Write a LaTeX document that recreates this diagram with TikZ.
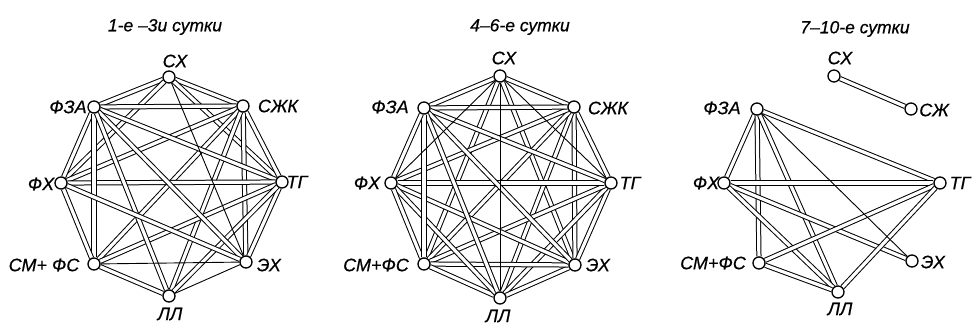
\documentclass[tikz,border=0pt]{standalone}
\usepackage{fontspec}
\setmainfont{Liberation Sans}
\newfontfamily\lbl{Liberation Sans}[FakeBold=0.6]
\usetikzlibrary{backgrounds}
\begin{document}
\begin{tikzpicture}[x=1pt,y=-1pt,
  vtx/.style={circle, draw, line width=1.3pt, fill=white, minimum size=12pt, inner sep=0pt},
  dbl/.style={draw, line width=1.0pt, double=white, double distance=3.2pt},
  thn/.style={draw, line width=0.9pt},
  lab/.style={font=\lbl\itshape\fontsize{18}{18}\selectfont, inner sep=0pt},
  ttl/.style={font=\lbl\itshape\fontsize{17.5}{18}\selectfont, inner sep=0pt}]
\useasboundingbox (0,0) rectangle (975,327);
% ---------- graph 1 ----------
\node[vtx] (pA1) at (169,77) {};
\node[vtx] (pB1) at (243,106) {};
\node[vtx] (pC1) at (282,182) {};
\node[vtx] (pD1) at (246,262) {};
\node[vtx] (pE1) at (169,296) {};
\node[vtx] (pF1) at (94,264) {};
\node[vtx] (pG1) at (61,183) {};
\node[vtx] (pH1) at (94,107) {};
% ---------- graph 2 ----------
\node[vtx] (pA2) at (500,76) {};
\node[vtx] (pB2) at (574,107) {};
\node[vtx] (pC2) at (611,183) {};
\node[vtx] (pD2) at (575,265) {};
\node[vtx] (pE2) at (500,298) {};
\node[vtx] (pF2) at (424,264) {};
\node[vtx] (pG2) at (391,183) {};
\node[vtx] (pH2) at (424,108) {};
% ---------- graph 3 ----------
\node[vtx] (pA3) at (834,76) {};
\node[vtx] (pB3) at (911,109) {};
\node[vtx] (pC3) at (940,183) {};
\node[vtx] (pD3) at (912,261) {};
\node[vtx] (pE3) at (838,292) {};
\node[vtx] (pF3) at (759,263) {};
\node[vtx] (pG3) at (724,183) {};
\node[vtx] (pH3) at (757,109) {};
\begin{pgfonlayer}{background}
\foreach \a/\b in {A/B,A/H,A/C,A/G,B/C,B/D,B/H,B/G,B/F,B/E,C/D,C/H,C/G,C/F,C/E,H/G,H/F,H/D,H/E,G/F,G/D,F/E}
  \draw[dbl] (p\a1) -- (p\b1);
\foreach \a/\b in {A/D,F/D,E/D}
  \draw[thn] (p\a1) -- (p\b1);
\foreach \a/\b in {A/B,A/H,A/D,A/F,B/C,B/D,B/E,B/F,B/G,B/H,C/D,C/E,C/F,C/G,C/H,D/E,D/F,D/G,D/H,E/F,E/G,E/H,F/G,F/H,G/H}
  \draw[dbl] (p\a2) -- (p\b2);
\foreach \a/\b in {A/E,A/G,A/C}
  \draw[thn] (p\a2) -- (p\b2);
\foreach \a/\b in {A/B,H/G,H/F,H/E,H/C,G/C,G/D,G/E,F/C,F/E,E/C}
  \draw[dbl] (p\a3) -- (p\b3);
\draw[thn] (pH3) -- (pD3);
\end{pgfonlayer}
% ---------- labels ----------
\node[ttl] (t1) at (165,27) {1-е –3и сутки};
\node[ttl] (t2) at (520,27) {4–6-е сутки};
\node[ttl] (t3) at (855,29) {7–10-е сутки};
\node[lab] (lA1) at (175,61) {СХ};
\node[lab] (lB1) at (278,106) {СЖК};
\node[lab] (lC1) at (297,182) {ТГ};
\node[lab] (lD1) at (269,265) {ЭХ};
\node[lab] (lE1) at (170,314) {ЛЛ};
\node[lab] (lF1) at (44,265) {СМ+ ФС};
\node[lab] (lG1) at (41,184) {ФХ};
\node[lab] (lH1) at (68,107) {ФЗА};
\node[lab] (lA2) at (504,58) {СХ};
\node[lab] (lB2) at (608,108) {СЖК};
\node[lab] (lC2) at (630,183) {ТГ};
\node[lab] (lD2) at (598,265) {ЭХ};
\node[lab] (lE2) at (498,316) {ЛЛ};
\node[lab] (lF2) at (376,265) {СМ+ФС};
\node[lab] (lG2) at (367,183) {ФХ};
\node[lab] (lH2) at (390,107) {ФЗА};
\node[lab] (lA3) at (840,58) {СХ};
\node[lab] (lB3) at (934,110) {СЖ};
\node[lab] (lC3) at (960,183) {ТГ};
\node[lab] (lD3) at (933,262) {ЭХ};
\node[lab] (lE3) at (840,309) {ЛЛ};
\node[lab] (lF3) at (713,263) {СМ+ФС};
\node[lab] (lG3) at (706,183) {ФХ};
\node[lab] (lH3) at (722,108) {ФЗА};
\end{tikzpicture}
\end{document}
